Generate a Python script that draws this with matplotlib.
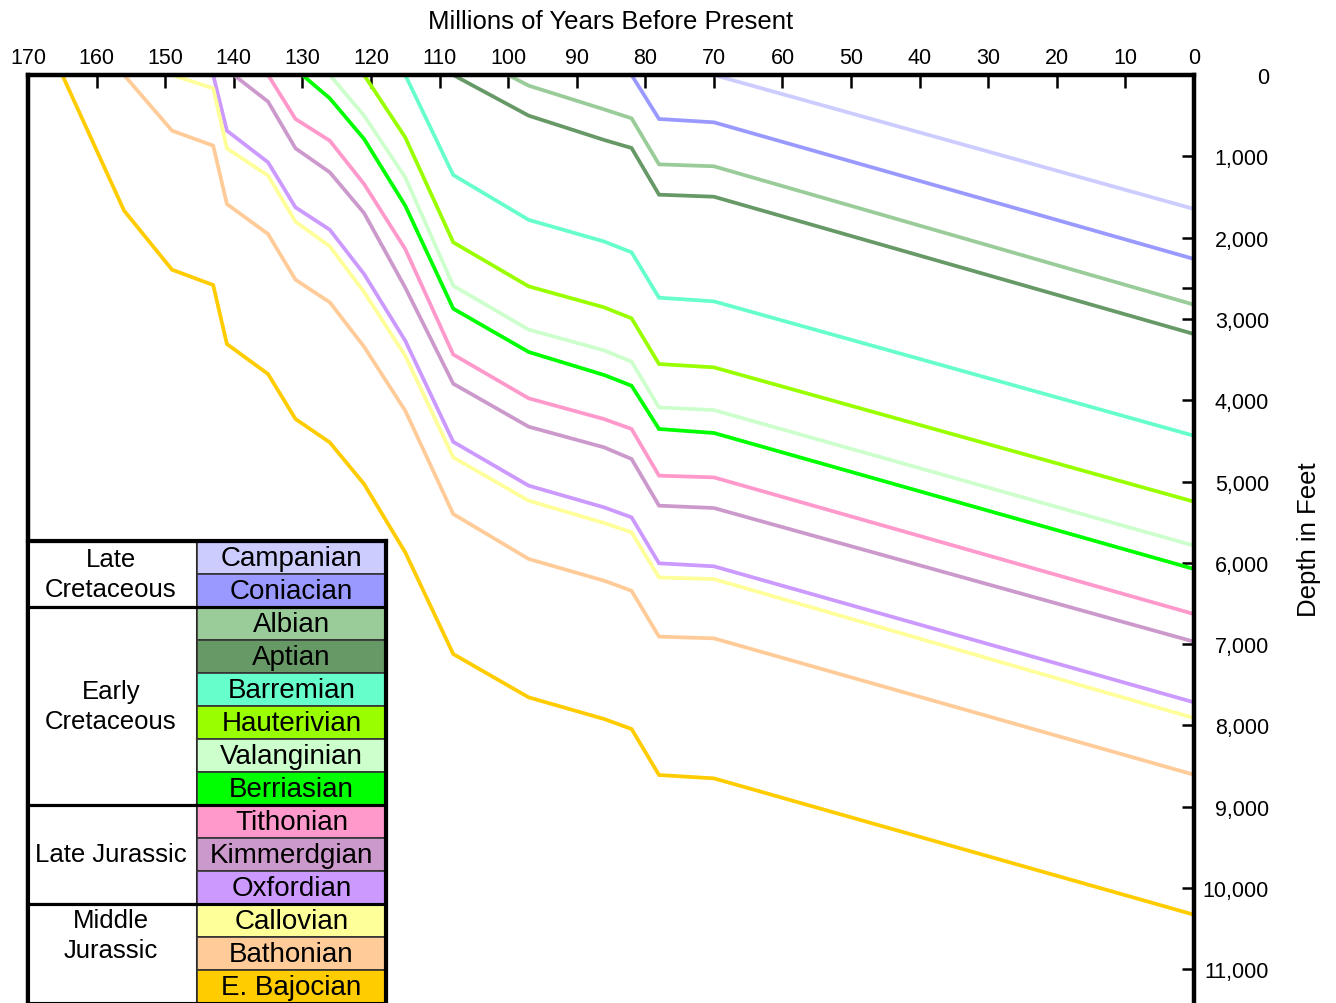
import numpy as np
import matplotlib
matplotlib.use("Agg")
import matplotlib.pyplot as plt
from matplotlib.patches import Rectangle
from matplotlib.ticker import FuncFormatter, FixedLocator

plt.rcParams['font.family'] = ['Liberation Sans', 'DejaVu Sans']

# burial history nodes (Ma) shared by all horizons
node_ages = [156, 149, 143, 141, 135, 131, 126, 121, 115, 108, 97, 86, 82, 78, 70, 0]

stages = ["Campanian", "Coniacian", "Albian", "Aptian", "Barremian", "Hauterivian",
          "Valanginian", "Berriasian", "Tithonian", "Kimmerdgian", "Oxfordian",
          "Callovian", "Bathonian", "E. Bajocian"]
colors = ["#CCCCFF", "#9999FF", "#99CC99", "#669966", "#66FFCC", "#99FF00",
          "#CCFFCC", "#00FF00", "#FF99CC", "#CC99CC", "#CC99FF",
          "#FFFF99", "#FFCC99", "#FFCC00"]
start_ages = [70, 82, 100, 108, 115, 121, 126, 130, 135, 140, 143, 149, 156, 165]

# depth (ft) at the last len(d) nodes of node_ages
campanian = [1648]
coniacian = [541, 582, 2263]
albian = [131, 423, 533, 1099, 1123, 2825]
aptian = [500, 799, 898, 1472, 1497, 3186]
barremian = [1230, 1782, 2048, 2181, 2739, 2784, 4437]
hauterivian = [767, 2058, 2600, 2858, 2993, 3555, 3596, 5248]
valanginian = [500, 1258, 2592, 3132, 3387, 3526, 4088, 4121, 5789]
berriasian = [287, 787, 1607, 2874, 3407, 3690, 3822, 4354, 4403, 6076]
tithonian = [541, 808, 1341, 2140, 3438, 3977, 4232, 4354, 4928, 4949, 6630]
kimmeridgian = [328, 902, 1197, 1698, 2615, 3797, 4326, 4580, 4723, 5297, 5326, 6970]
oxfordian = [685, 1074, 1628, 1903, 2448, 3268, 4512, 5051, 5318, 5441, 6006, 6043, 7716]
callovian = [164, 902, 1238, 1804, 2107, 2670, 3453, 4703, 5236, 5510, 5625, 6180, 6200, 7909]
bathonian = [685, 869, 1587, 1956, 2518, 2796, 3342, 4129, 5400, 5953, 6220, 6344, 6908, 6929, 8606]
bajocian = [1667, 2395, 2583, 3309, 3678, 4231, 4519, 5031, 5871, 7122, 7655, 7921, 8044, 8610, 8651, 10328]

depths = [campanian, coniacian, albian, aptian, barremian, hauterivian, valanginian,
          berriasian, tithonian, kimmeridgian, oxfordian, callovian, bathonian, bajocian]

groups = ["Late\nCretaceous", "Early\nCretaceous", "Late Jurassic", "Middle\nJurassic"]
group_rows = [2, 6, 3, 3]

W, H = 1336, 1004
fig = plt.figure(figsize=(W / 100, H / 100), dpi=100)
ax = fig.add_axes([28 / W, 0, (1194 - 28) / W, (H - 76) / H])

for name, c, t0, d in zip(stages, colors, start_ages, depths):
    ages = [t0] + node_ages[len(node_ages) - len(d):]
    ax.plot(ages, [0] + d, color=c, lw=2.7, solid_joinstyle='miter')

ax.set_xlim(170, 0)
ax.set_ylim(11414, 0)
ax.xaxis.tick_top()
ax.xaxis.set_label_position('top')
ax.yaxis.tick_right()
ax.yaxis.set_label_position('right')
ax.set_xticks(np.arange(170, -1, -10))
ax.set_yticks(np.arange(0, 11001, 1000))
ax.yaxis.set_minor_locator(FixedLocator([2620]))
ax.yaxis.set_major_formatter(FuncFormatter(lambda v, p: f"{int(v):,}"))
ax.tick_params(which='both', direction='in', length=9, width=1.8, labelsize=15.5)
ax.tick_params(axis='x', pad=5)
ax.tick_params(axis='y', pad=54)
for lbl in ax.get_yticklabels():
    lbl.set_horizontalalignment('right')
for s in ['top', 'left', 'right']:
    ax.spines[s].set_linewidth(3.2)
ax.spines['bottom'].set_visible(False)
ax.set_xlabel("Millions of Years Before Present", fontsize=18.5, labelpad=14)
ax.set_ylabel("Depth in Feet", fontsize=18.5, labelpad=20)

# legend table in pixel coordinates
lax = fig.add_axes([0, 0, 1, 1])
lax.set_xlim(0, W)
lax.set_ylim(H, 0)
lax.axis('off')
top, rh = 542, 33
x0, xm, x1 = 28, 197, 386
for i, (name, c) in enumerate(zip(stages, colors)):
    y = top + i * rh
    lax.add_patch(Rectangle((xm, y), x1 - xm, rh, facecolor=c, edgecolor='#333333', lw=1.2))
    lax.text((xm + x1) / 2, y + rh / 2 + 1, name, ha='center', va='center', fontsize=20)
r = 0
for g, n in zip(groups, group_rows):
    y = top + r * rh
    lax.add_patch(Rectangle((x0, y), x1 - x0, n * rh, facecolor='none', edgecolor='black', lw=2.2))
    lax.add_patch(Rectangle((x0, y), xm - x0, n * rh, facecolor='white', edgecolor='black', lw=2.2, zorder=0))
    ty = y + n * rh / 2 if g != "Middle\nJurassic" else y + 31
    lax.text(111, ty, g, ha='center', va='center', fontsize=18.5, linespacing=1.28)
    r += n
lax.plot([x1, x1], [top, H], color='black', lw=3)
lax.plot([x0, x1], [top, top], color='black', lw=3)

fig.savefig("out.png", dpi=100)
